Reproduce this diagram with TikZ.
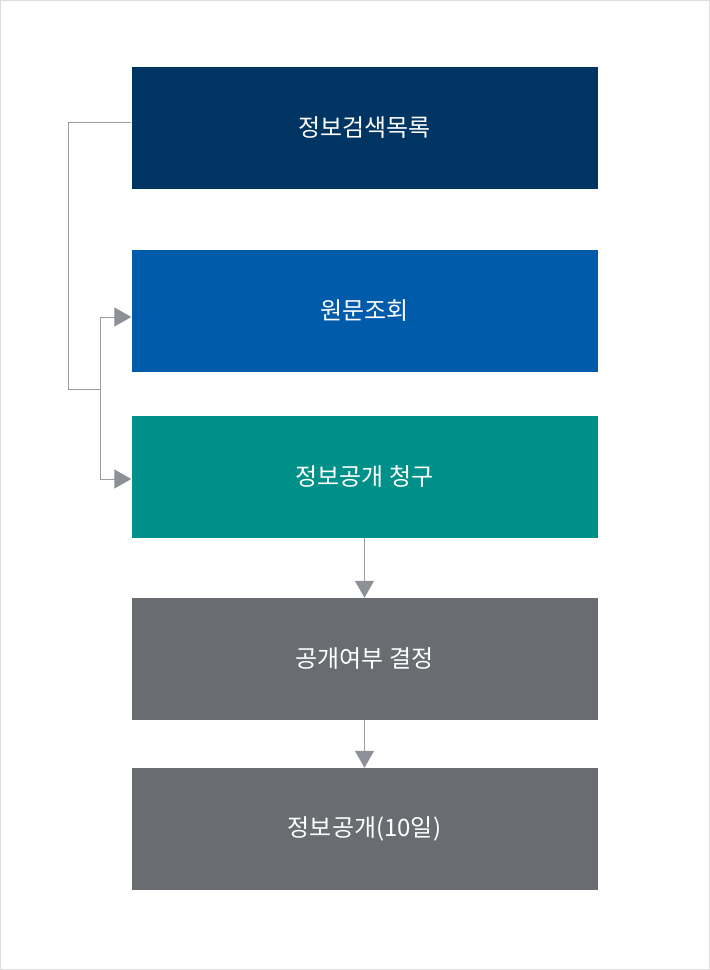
\documentclass[tikz,border=0pt]{standalone}
\usepackage{fontspec}
\setmainfont{Noto Sans CJK KR}
\usetikzlibrary{arrows.meta}
\definecolor{cA}{HTML}{003462}
\definecolor{cB}{HTML}{005BAB}
\definecolor{cC}{HTML}{00908A}
\definecolor{cD}{HTML}{696C70}
\definecolor{ln}{HTML}{9A9DA1}
\definecolor{tip}{HTML}{8D9197}
\definecolor{frame}{HTML}{DDDDDD}
\begin{document}
\begin{tikzpicture}[x=1pt,y=-1pt,
  box/.style={minimum width=466pt,minimum height=122pt,inner sep=0pt,text=white,font=\fontsize{24}{28}\selectfont},
  conn/.style={draw=ln,line width=1pt},
  arr/.style={conn,-{Triangle[width=19pt,length=17pt,fill=tip,color=tip]}}]
\useasboundingbox (0,0) rectangle (710,970);
\draw[frame,line width=1pt] (0.5,0.5) rectangle (709.5,969.5);
\node[box,fill=cA] (b1) at (364.5,128) {정보검색목록};
\node[box,fill=cB] (b2) at (364.5,310.5) {원문조회};
\node[box,fill=cC] (b3) at (364.5,476.5) {정보공개 청구};
\node[box,fill=cD] (b4) at (364.5,659) {공개여부 결정};
\node[box,fill=cD] (b5) at (364.5,829) {정보공개(10일)};
\coordinate (j) at (100,389);
\coordinate (t2) at (b2.west |- 0,317);
\coordinate (t3) at (b3.west |- 0,479);
\draw[conn] (b1.west |- 0,122) -- (68,122) -- (68,389) -- (j);
\draw[arr] (j) -- (100,317) -- (t2);
\draw[arr] (j) -- (100,479) -- (t3);
\draw[arr] (b3.south) -- (b4.north);
\draw[arr] (b4.south) -- (b5.north);
\end{tikzpicture}
\end{document}
